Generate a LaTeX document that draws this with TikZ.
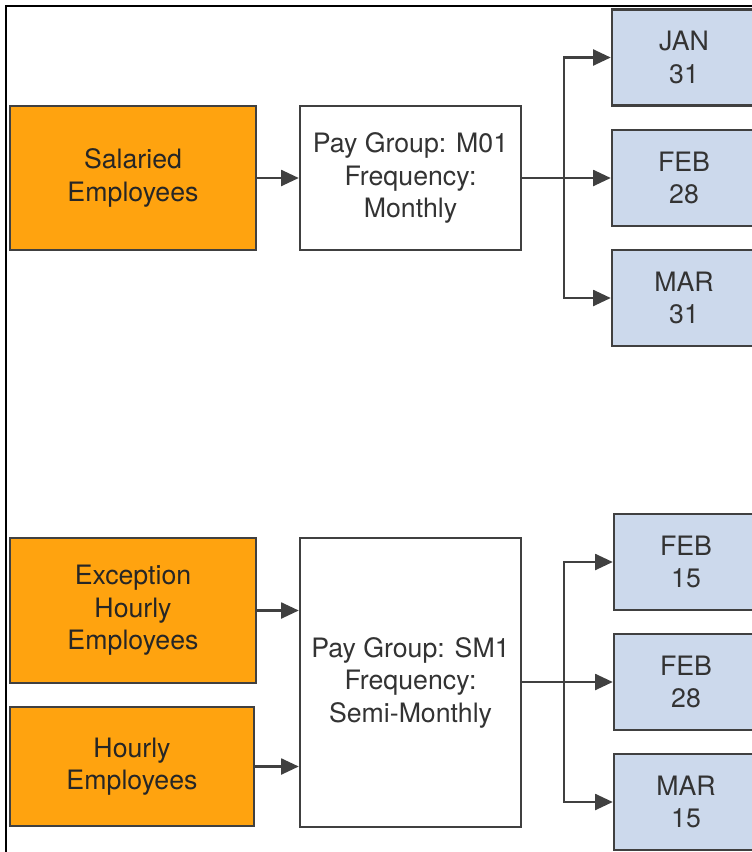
\documentclass[tikz,border=0pt]{standalone}
\usepackage{fontspec}
\setmainfont{TeX Gyre Heros}
\usepackage{xcolor}
\usetikzlibrary{arrows.meta,positioning,calc}

\definecolor{empfill}{RGB}{255,163,15}
\definecolor{calfill}{RGB}{204,217,236}
\definecolor{edgegray}{RGB}{64,64,64}
\definecolor{textgray}{RGB}{51,51,51}

\begin{document}
\begin{tikzpicture}[
  x=0.02cm, y=-0.02cm,
  every node/.style={font=\fontsize{15.2}{18.5}\selectfont},
  empbox/.style={rectangle, draw=edgegray, line width=1.4pt, fill=empfill,
    align=center, text=black!85},
  groupbox/.style={rectangle, draw=edgegray, line width=1.4pt, fill=white,
    minimum width=4.42cm, align=center, text=textgray},
  calbox/.style={rectangle, draw=edgegray, line width=1.4pt, fill=calfill,
    minimum width=2.88cm, minimum height=1.92cm, align=center, text=textgray},
  arr/.style={-{Triangle[length=10pt,width=9pt]}, line width=1.4pt, draw=edgegray},
]
\useasboundingbox (0,0) rectangle (751,852);

% Frame
\draw[line width=0.9pt] (6,900) -- (6,6) -- (800,6);

% Monthly pay group
\node[empbox, minimum width=4.92cm, minimum height=2.88cm] (sal) at (133,178)
  {Salaried\\ Employees};
\node[groupbox, minimum height=2.88cm] (m01) at (410.5,178)
  {Pay Group: M01\\ Frequency:\\ Monthly};

\node[calbox] (jan) at (684,57.5) {JAN\\ 31};
\node[calbox] (feb) at (684,178) {FEB\\ 28};
\node[calbox] (mar) at (684,298) {MAR\\ 31};

% Semi-monthly pay group
\node[empbox, minimum width=4.92cm, minimum height=2.9cm] (exc) at (133,610.5)
  {Exception\\ Hourly\\ Employees};
\node[empbox, minimum width=4.88cm, minimum height=2.38cm] (hrly) at (132,766.5)
  {Hourly\\ Employees};
\node[groupbox, minimum height=5.78cm] (sm1) at (410.5,682.5)
  {Pay Group: SM1\\ Frequency:\\ Semi-Monthly};

\node[calbox] (feb15) at (686,562) {FEB\\ 15};
\node[calbox] (feb28) at (686,682) {FEB\\ 28};
\node[calbox] (mar15) at (686,802) {MAR\\ 15};

% Arrows
\draw[arr] (sal) -- (m01);
\coordinate (split1) at (564,178);
\draw[arr] (m01.east) -- (feb.west);
\draw[arr] (split1) |- (jan.west);
\draw[arr] (split1) |- (mar.west);

\draw[arr] (exc.east) -- (exc.east -| sm1.west);
\draw[arr] (hrly.east) -- (hrly.east -| sm1.west);
\coordinate (split2) at (564,682);
\draw[arr] (sm1.east |- feb28.west) -- (feb28.west);
\draw[arr] (split2) |- (feb15.west);
\draw[arr] (split2) |- (mar15.west);

\end{tikzpicture}
\end{document}
